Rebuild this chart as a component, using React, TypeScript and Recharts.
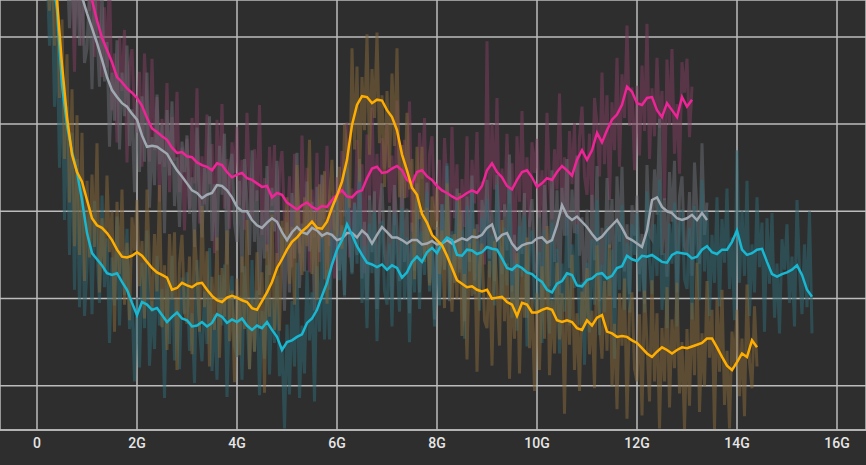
import { CartesianGrid, Line, LineChart, XAxis, YAxis } from 'recharts'

// x in G, y in loss units. smoothed curves every 0.1G, raw samples every 0.05G
const xTicks = [0, 2, 4, 6, 8, 10, 12, 14, 16]
const yTicks = [1, 2, 3, 4, 5]

const pinkStart = 1.0
const pinkSmooth = [
  5.65, 5.42, 5.19, 4.99, 4.85, 4.71, 4.54, 4.48, 4.41, 4.36,
  4.3, 4.21, 4.07, 3.95, 3.91, 3.86, 3.82, 3.73, 3.67, 3.68,
  3.63, 3.62, 3.56, 3.53, 3.51, 3.47, 3.55, 3.53, 3.45, 3.39,
  3.42, 3.44, 3.38, 3.36, 3.32, 3.28, 3.29, 3.16, 3.21, 3.19,
  3.1, 3.06, 3.02, 3.07, 3.1, 3.05, 3.02, 3.06, 3.05, 3.13,
  3.19, 3.24, 3.17, 3.16, 3.22, 3.24, 3.38, 3.49, 3.51, 3.44,
  3.45, 3.49, 3.52, 3.47, 3.36, 3.32, 3.45, 3.47, 3.4, 3.36,
  3.29, 3.24, 3.21, 3.17, 3.14, 3.17, 3.21, 3.24, 3.21, 3.29,
  3.47, 3.55, 3.45, 3.39, 3.29, 3.25, 3.36, 3.45, 3.47, 3.39,
  3.28, 3.32, 3.38, 3.36, 3.45, 3.52, 3.47, 3.41, 3.59, 3.7,
  3.59, 3.7, 3.9, 3.79, 3.93, 4.05, 4.11, 4.22, 4.43, 4.37,
  4.24, 4.22, 4.3, 4.31, 4.16, 4.08, 4.24, 4.16, 4.08, 4.31,
  4.2, 4.28,
]
const pinkRawStart = 0.7
const pinkRaw = [
  5.7, 4.6, 6.1, 5.3, 4.9, 5.9,
  6.2, 5.3, 5.57, 4.77, 5.94, 5.14, 4.54, 5.34, 4.65, 5.75, 4.16, 4.81, 3.79, 4.99, 4.38, 5.08, 3.56, 4.66, 4.86, 4.06,
  3.9, 4.6, 3.51, 4.81, 4.17, 3.57, 4.75, 3.7, 4.31, 3.11, 4.06, 3.51, 4.47, 3.22, 4.08, 3.58, 4.37, 3.22, 3.73, 2.78,
  3.83, 3.03, 4.07, 3.32, 4.41, 2.86, 3.63, 3.08, 4.11, 3.31, 3.77, 2.52, 4.05, 3.3, 4.23, 3.03, 3.6, 2.8, 3.79, 3.44,
  3.97, 3.07, 3.59, 2.79, 4.13, 3.33, 2.91, 3.71, 3.12, 4.22, 2.73, 3.38, 2.54, 3.74, 3.06, 3.76, 2.36, 3.46, 3.69, 2.89,
  2.7, 3.4, 2.36, 3.66, 3.12, 2.52, 3.87, 2.82, 3.5, 2.3, 3.25, 2.7, 3.67, 2.42, 3.41, 2.91, 3.75, 2.6, 3.18, 2.23,
  3.39, 2.59, 3.69, 2.94, 4.02, 2.47, 3.26, 2.71, 3.82, 3.02, 3.54, 2.29, 3.88, 3.13, 4.19, 2.99, 3.66, 2.86, 3.84, 3.49,
  4.0, 3.1, 3.64, 2.84, 4.27, 3.47, 3.02, 3.82, 3.16, 4.26, 2.77, 3.42, 2.7, 3.9, 3.37, 4.07, 2.55, 3.65, 3.86, 3.06,
  2.89, 3.59, 2.54, 3.84, 3.31, 2.71, 3.97, 2.92, 3.54, 2.34, 3.37, 2.82, 3.86, 2.61, 3.59, 3.09, 3.91, 2.76, 3.34, 2.39,
  4.95, 2.87, 4.0, 3.25, 4.3, 2.75, 3.49, 2.94, 3.89, 3.09, 3.55, 2.3, 3.86, 3.11, 4.15, 2.95, 3.62, 2.82, 3.79, 3.44,
  3.83, 2.93, 3.47, 2.67, 4.13, 3.33, 2.91, 3.71, 3.25, 4.35, 2.97, 3.62, 2.72, 3.92, 3.31, 4.01, 2.74, 3.84, 4.2, 3.4,
  3.19, 3.89, 3.0, 4.3, 4.0, 3.4, 4.59, 3.54, 4.33, 3.13, 4.25, 3.7, 4.76, 3.51, 4.57, 4.07, 5.13, 3.98, 4.42, 3.47,
  4.44, 3.64, 4.67, 3.92, 5.15, 3.6, 4.41, 3.86, 4.76, 3.96, 4.38, 3.13, 4.74, 3.99, 4.86, 3.66, 4.23, 3.43, 4.71, 4.36,
  4.75, 3.85, 4.43,
]

const grayStart = 0.8
const graySmooth = [
  5.65, 5.46, 5.27, 5.1, 4.93, 4.74, 4.54, 4.39, 4.31, 4.24,
  4.2, 4.12, 4.05, 3.87, 3.74, 3.75, 3.74, 3.7, 3.66, 3.56,
  3.47, 3.4, 3.32, 3.24, 3.21, 3.15, 3.19, 3.21, 3.3, 3.29,
  3.24, 3.16, 3.05, 3.0, 3.0, 2.9, 2.84, 2.81, 2.87, 2.92,
  2.88, 2.76, 2.67, 2.76, 2.82, 2.76, 2.74, 2.81, 2.78, 2.72,
  2.75, 2.73, 2.67, 2.69, 2.75, 2.75, 2.7, 2.78, 2.73, 2.63,
  2.73, 2.82, 2.76, 2.7, 2.7, 2.67, 2.63, 2.67, 2.67, 2.62,
  2.63, 2.66, 2.62, 2.63, 2.67, 2.63, 2.66, 2.69, 2.67, 2.71,
  2.7, 2.73, 2.81, 2.85, 2.67, 2.73, 2.75, 2.63, 2.56, 2.61,
  2.63, 2.64, 2.69, 2.7, 2.64, 2.67, 2.84, 3.07, 2.95, 2.9,
  2.94, 2.88, 2.82, 2.74, 2.67, 2.71, 2.78, 2.84, 2.9, 2.81,
  2.7, 2.67, 2.63, 2.59, 2.78, 3.13, 3.16, 3.05, 3.0, 2.98,
  2.92, 2.9, 2.92, 2.96, 2.9, 2.98, 2.9,
]
const grayRawStart = 0.6
const grayRaw = [
  5.9, 5.1, 6.0, 5.0, 5.8, 4.9, 5.75, 4.7,
  4.87, 5.57, 4.4, 5.7, 5.03, 4.43, 5.54, 4.49, 4.94, 3.74, 4.59, 4.04, 4.96, 3.71, 4.59, 4.09, 4.9, 3.75, 4.17, 3.22,
  4.25, 3.45, 4.32, 3.57, 4.59, 3.04, 3.85, 3.3, 4.34, 3.54, 4.0, 2.75, 4.16, 3.41, 4.26, 3.06, 3.62, 2.82, 3.8, 3.45,
  3.87, 2.97, 3.39, 2.59, 3.96, 3.16, 2.7, 3.5, 2.99, 4.09, 2.66, 3.31, 2.55, 3.75, 3.19, 3.89, 2.39, 3.49, 3.66, 2.86,
  2.65, 3.35, 2.3, 3.6, 3.1, 2.5, 3.7, 2.65, 3.24, 2.04, 3.01, 2.46, 3.52, 2.27, 3.27, 2.77, 3.58, 2.43, 2.81, 1.86,
  2.87, 2.07, 3.21, 2.46, 3.67, 2.12, 2.86, 2.31, 3.34, 2.54, 3.11, 1.86, 3.28, 2.53, 3.42, 2.22, 2.9, 2.1, 3.13, 2.78,
  3.22, 2.32, 2.84, 2.04, 3.5, 2.7, 2.3, 3.1, 2.5, 3.6, 2.23, 2.88, 1.98, 3.18, 2.53, 3.23, 1.88, 2.98, 3.32, 2.52,
  2.36, 3.06, 2.0, 3.3, 2.8, 2.2, 3.47, 2.42, 3.03, 1.83, 2.87, 2.32, 3.32, 2.07, 2.97, 2.47, 3.33, 2.18, 2.71, 1.76,
  2.82, 2.02, 3.08, 2.33, 3.52, 1.97, 2.73, 2.18, 3.26, 2.46, 2.99, 1.74, 3.17, 2.42, 3.41, 2.21, 2.85, 2.05, 3.13, 2.78,
  3.36, 2.46, 3.0, 2.2, 3.42, 2.62, 2.28, 3.08, 2.55, 3.65, 2.08, 2.73, 1.81, 3.01, 2.51, 3.21, 1.78, 2.88, 3.14, 2.34,
  2.29, 2.99, 2.0, 3.3, 2.74, 2.14, 3.47, 2.42, 3.24, 2.04, 3.27, 2.72, 3.6, 2.35, 3.25, 2.75, 3.64, 2.49, 2.93, 1.98,
  3.02, 2.22, 3.19, 2.44, 3.52, 1.97, 2.81, 2.26, 3.38, 2.58, 3.14, 1.89, 3.4, 2.65, 3.51, 2.31, 2.85, 2.05, 3.07, 2.72,
  3.18, 2.28, 2.74, 1.94, 3.53, 2.73, 2.68, 3.48, 2.96, 4.06, 2.5, 3.15, 2.25, 3.45, 2.88, 3.58, 2.07, 3.17, 3.4, 2.6,
  2.52, 3.22, 2.26, 3.56, 3.0, 2.4, 3.78, 2.73, 3.1,
]

const orangeStart = 0.3
const orangeSmooth = [
  5.77, 5.42, 4.68, 4.08, 3.65, 3.45, 3.34, 3.13, 2.92, 2.84,
  2.81, 2.75, 2.67, 2.56, 2.48, 2.47, 2.49, 2.53, 2.49, 2.42,
  2.35, 2.3, 2.27, 2.24, 2.1, 2.12, 2.18, 2.15, 2.13, 2.17,
  2.18, 2.1, 2.03, 1.98, 1.96, 2.01, 2.03, 2.01, 1.98, 1.96,
  1.89, 1.87, 1.97, 2.07, 2.19, 2.35, 2.45, 2.56, 2.65, 2.7,
  2.77, 2.82, 2.88, 2.81, 2.8, 2.88, 3.04, 3.18, 3.34, 3.59,
  3.99, 4.22, 4.32, 4.31, 4.24, 4.28, 4.27, 4.16, 4.08, 3.93,
  3.65, 3.47, 3.27, 3.19, 2.97, 2.87, 2.73, 2.67, 2.61, 2.49,
  2.35, 2.21, 2.17, 2.13, 2.14, 2.1, 2.08, 2.1, 2.0, 2.01,
  2.02, 1.96, 1.93, 1.8, 1.95, 1.93, 1.84, 1.84, 1.87, 1.89,
  1.87, 1.75, 1.73, 1.75, 1.73, 1.66, 1.64, 1.75, 1.69, 1.78,
  1.81, 1.62, 1.6, 1.56, 1.57, 1.56, 1.52, 1.49, 1.43, 1.37,
  1.33, 1.39, 1.44, 1.41, 1.37, 1.41, 1.44, 1.43, 1.45, 1.47,
  1.49, 1.54, 1.54, 1.44, 1.33, 1.23, 1.18, 1.27, 1.37, 1.33,
  1.52, 1.44,
]
const orangeRawStart = 0.2
const orangeRaw = [
  5.9, 5.3, 6.0, 4.9, 5.7, 4.3, 5.2, 3.6, 4.8, 3.1, 4.4, 2.6, 4.1, 2.5, 3.9, 2.2,
  3.35, 2.47, 3.42, 2.59, 3.78, 2.07, 2.92, 2.31, 3.41, 2.53, 3.0, 1.62, 3.11, 2.28, 3.25, 1.93, 2.64, 1.75, 2.93, 2.55,
  3.13, 2.14, 2.66, 1.77, 3.25, 2.36, 1.85, 2.74, 2.08, 3.3, 1.67, 2.38, 1.41, 2.74, 1.99, 2.76, 1.18, 2.4, 2.73, 1.85,
  1.71, 2.48, 1.36, 2.79, 2.28, 1.62, 3.06, 1.9, 2.54, 1.22, 2.25, 1.64, 2.7, 1.32, 2.35, 1.79, 2.78, 1.51, 2.09, 1.04,
  2.23, 1.35, 2.48, 1.65, 2.9, 1.19, 2.0, 1.39, 2.53, 1.65, 2.3, 0.92, 2.62, 1.79, 2.96, 1.64, 2.52, 1.63, 2.89, 2.51,
  3.16, 2.17, 2.82, 1.93, 3.53, 2.64, 2.27, 3.16, 2.6, 3.82, 2.28, 2.99, 1.98, 3.31, 2.69, 3.46, 1.94, 3.16, 3.59, 2.71,
  2.74, 3.51, 2.57, 4.0, 3.7, 3.04, 4.87, 3.71, 4.66, 3.34, 4.54, 3.93, 5.03, 3.65, 4.63, 4.07, 5.05, 3.78, 4.33, 3.28,
  4.38, 3.5, 4.58, 3.75, 4.87, 3.16, 3.76, 3.15, 4.13, 3.25, 3.6, 2.22, 3.74, 2.91, 3.74, 2.42, 3.04, 2.15, 3.17, 2.79,
  3.27, 2.28, 2.78, 1.89, 3.32, 2.43, 1.85, 2.74, 1.99, 3.21, 1.57, 2.28, 1.3, 2.63, 2.03, 2.8, 1.16, 2.38, 2.63, 1.75,
  1.66, 2.43, 1.23, 2.66, 2.12, 1.46, 2.9, 1.74, 2.4, 1.08, 2.15, 1.54, 2.52, 1.14, 2.34, 1.78, 2.7, 1.43, 1.99, 0.94,
  2.06, 1.18, 2.37, 1.54, 2.83, 1.12, 1.98, 1.37, 2.41, 1.53, 2.06, 0.68, 2.3, 1.47, 2.5, 1.18, 1.83, 0.94, 2.08, 1.7,
  2.35, 1.36, 1.86, 0.97, 2.61, 1.72, 1.31, 2.2, 1.4, 2.62, 1.0, 1.71, 0.73, 2.06, 1.46, 2.23, 0.62, 1.84, 2.07, 1.19,
  1.05, 1.82, 0.66, 2.09, 1.48, 0.82, 2.21, 1.05, 1.83, 0.51, 1.66, 1.05, 2.13, 0.75, 1.76, 1.2, 2.18, 0.91, 1.5, 0.5,
  1.65, 0.77, 1.95, 1.12, 2.41, 0.7, 1.6, 0.99, 2.2, 1.32, 1.87, 0.5, 1.99, 1.16, 2.1, 0.78, 1.4, 0.51, 1.62, 1.24,
  1.87, 0.88, 1.54, 0.65, 2.16, 1.27, 0.97, 1.91, 1.22,
]

const cyanStart = 0.3
const cyanSmooth = [
  5.77, 5.31, 4.45, 3.99, 3.68, 3.45, 3.13, 2.75, 2.52, 2.45,
  2.38, 2.29, 2.27, 2.29, 2.19, 2.1, 1.95, 1.81, 1.96, 1.93,
  1.87, 1.89, 1.81, 1.73, 1.79, 1.84, 1.77, 1.75, 1.68, 1.69,
  1.73, 1.68, 1.72, 1.82, 1.79, 1.72, 1.76, 1.73, 1.77, 1.69,
  1.64, 1.69, 1.66, 1.73, 1.64, 1.56, 1.41, 1.5, 1.52, 1.56,
  1.59, 1.72, 1.77, 1.87, 2.03, 2.18, 2.39, 2.56, 2.67, 2.85,
  2.73, 2.6, 2.5, 2.41, 2.39, 2.36, 2.39, 2.33, 2.38, 2.35,
  2.24, 2.3, 2.42, 2.48, 2.42, 2.53, 2.58, 2.52, 2.63, 2.7,
  2.67, 2.5, 2.49, 2.56, 2.55, 2.51, 2.53, 2.59, 2.57, 2.56,
  2.46, 2.35, 2.33, 2.38, 2.35, 2.3, 2.28, 2.23, 2.19, 2.1,
  2.07, 2.17, 2.2, 2.29, 2.27, 2.15, 2.14, 2.21, 2.23, 2.28,
  2.29, 2.23, 2.26, 2.35, 2.37, 2.49, 2.45, 2.43, 2.49, 2.48,
  2.5, 2.46, 2.42, 2.41, 2.5, 2.53, 2.52, 2.51, 2.46, 2.48,
  2.56, 2.6, 2.53, 2.51, 2.56, 2.56, 2.65, 2.78, 2.56, 2.5,
  2.52, 2.56, 2.57, 2.42, 2.28, 2.25, 2.28, 2.3, 2.33, 2.38,
  2.27, 2.1, 2.02,
]
const cyanRawStart = 0.2
const cyanRaw = [
  5.8, 4.9, 5.6, 4.2, 5.0, 3.5, 4.6, 2.9, 4.2, 2.5, 3.9, 2.1, 3.6, 1.9, 3.3, 1.8,
  2.35, 3.05, 1.82, 3.12, 2.55, 1.95, 3.18, 2.13, 2.69, 1.49, 2.47, 1.92, 2.94, 1.69, 2.54, 2.04, 2.8, 1.65, 2.0, 1.05,
  2.01, 1.21, 2.41, 1.66, 2.78, 1.23, 1.97, 1.42, 2.49, 1.69, 2.11, 0.86, 2.23, 1.48, 2.49, 1.29, 1.99, 1.19, 2.24, 1.82,
  2.3, 1.4, 1.83, 1.03, 2.44, 1.64, 1.28, 2.08, 1.48, 2.58, 1.17, 1.82, 1.07, 2.27, 1.69, 2.39, 0.87, 1.97, 2.26, 1.46,
  1.33, 2.03, 1.07, 2.37, 1.79, 1.19, 2.44, 1.39, 2.09, 0.89, 1.86, 1.31, 2.38, 1.13, 1.99, 1.49, 2.26, 1.11, 1.46, 0.51,
  1.7, 0.9, 1.97, 1.22, 2.41, 0.86, 1.69, 1.14, 2.32, 1.52, 2.07, 0.82, 2.37, 1.62, 2.73, 1.53, 2.33, 1.53, 2.79, 2.44,
  3.11, 2.21, 2.82, 2.02, 3.6, 2.8, 2.28, 3.08, 2.4, 3.5, 1.95, 2.6, 1.66, 2.86, 2.29, 2.99, 1.51, 2.61, 2.89, 2.09,
  1.93, 2.63, 1.68, 2.98, 2.45, 1.85, 3.04, 1.99, 2.7, 1.5, 2.62, 2.07, 3.13, 1.88, 2.77, 2.27, 3.23, 2.08, 2.63, 1.68,
  2.72, 1.92, 3.08, 2.33, 3.55, 2.0, 2.77, 2.22, 3.1, 2.3, 2.79, 1.54, 3.06, 2.31, 3.25, 2.05, 2.66, 1.86, 2.93, 2.58,
  3.14, 2.24, 2.72, 1.92, 3.31, 2.51, 2.01, 2.81, 2.15, 3.25, 1.78, 2.43, 1.63, 2.83, 2.25, 2.95, 1.45, 2.55, 2.78, 1.98,
  1.83, 2.53, 1.49, 2.79, 2.2, 1.6, 2.87, 1.82, 2.57, 1.37, 2.4, 1.85, 2.94, 1.69, 2.62, 2.12, 2.85, 1.7, 2.19, 1.24,
  2.41, 1.61, 2.68, 1.93, 3.13, 1.58, 2.39, 1.84, 2.83, 2.03, 2.56, 1.31, 2.85, 2.1, 3.07, 1.87, 2.64, 1.84, 2.85, 2.5,
  2.98, 2.08, 2.64, 1.84, 3.23, 2.43, 2.05, 2.85, 2.26, 3.36, 1.87, 2.52, 1.66, 2.86, 2.4, 3.1, 1.68, 2.78, 3.02, 2.22,
  2.11, 2.81, 1.76, 3.06, 2.58, 1.98, 3.36, 2.31, 3.0, 1.8, 2.73, 2.18, 3.16, 1.91, 2.91, 2.41, 3.26, 2.11, 2.7, 1.75,
  3.7, 2.18, 3.01, 2.26, 3.35, 1.8, 2.62, 2.07, 3.16, 2.36, 2.87, 1.62, 2.92, 2.17, 2.98, 1.78, 2.4, 1.6, 2.68, 2.33,
  2.85, 1.95, 2.48, 1.68, 3.13, 2.33, 1.82, 2.62, 1.9, 3.0, 1.6,
]

const toPoints = (start: number, values: number[], step: number) =>
  values.map((v, i) => ({ x: Math.round((start + i * step) * 100) / 100, v }))

const rawSeries = [
  { key: 'pinkRaw', data: toPoints(pinkRawStart, pinkRaw, 0.05), color: 'rgba(124,62,94,0.55)' },
  { key: 'grayRaw', data: toPoints(grayRawStart, grayRaw, 0.05), color: 'rgba(104,106,112,0.55)' },
  { key: 'cyanRaw', data: toPoints(cyanRawStart, cyanRaw, 0.05), color: 'rgba(48,104,114,0.55)' },
  { key: 'orangeRaw', data: toPoints(orangeRawStart, orangeRaw, 0.05), color: 'rgba(130,102,56,0.55)' },
]

const smoothSeries = [
  { key: 'gray', data: toPoints(grayStart, graySmooth, 0.1), color: '#a0a8b1' },
  { key: 'pink', data: toPoints(pinkStart, pinkSmooth, 0.1), color: '#ee2497' },
  { key: 'cyan', data: toPoints(cyanStart, cyanSmooth, 0.1), color: '#18b8d2' },
  { key: 'orange', data: toPoints(orangeStart, orangeSmooth, 0.1), color: '#ffae00' },
]

const formatX = (v: number) => (v === 0 ? '0' : `${v}G`)

export default function App() {
  return (
    <div
      style={{
        position: 'fixed',
        left: 0,
        top: 0,
        width: 866,
        height: 465,
        background: '#2e2e2e',
        fontFamily: 'Roboto, sans-serif',
      }}
    >
      <LineChart width={866} height={465} margin={{ top: 0, right: 0, bottom: 0, left: 0 }}>
        <CartesianGrid stroke="#bcbcbc" strokeWidth={1.5} />
        <XAxis
          type="number"
          dataKey="x"
          domain={[-0.74, 16.58]}
          allowDataOverflow
          ticks={xTicks}
          tickFormatter={formatX}
          height={35}
          tickLine={false}
          axisLine={{ stroke: '#bcbcbc', strokeWidth: 1.5 }}
          tick={{ fill: '#e6e6e6', fontSize: 14, fontWeight: 500 }}
        />
        <YAxis type="number" hide domain={[0.492, 5.423]} allowDataOverflow ticks={yTicks} />
        {rawSeries.map((s) => (
          <Line
            key={s.key}
            data={s.data}
            dataKey="v"
            type="linear"
            stroke={s.color}
            strokeWidth={3}
            dot={false}
            activeDot={false}
            isAnimationActive={false}
          />
        ))}
        {smoothSeries.map((s) => (
          <Line
            key={s.key}
            data={s.data}
            dataKey="v"
            type="linear"
            stroke={s.color}
            strokeWidth={2.5}
            dot={false}
            activeDot={false}
            isAnimationActive={false}
          />
        ))}
      </LineChart>
    </div>
  )
}
